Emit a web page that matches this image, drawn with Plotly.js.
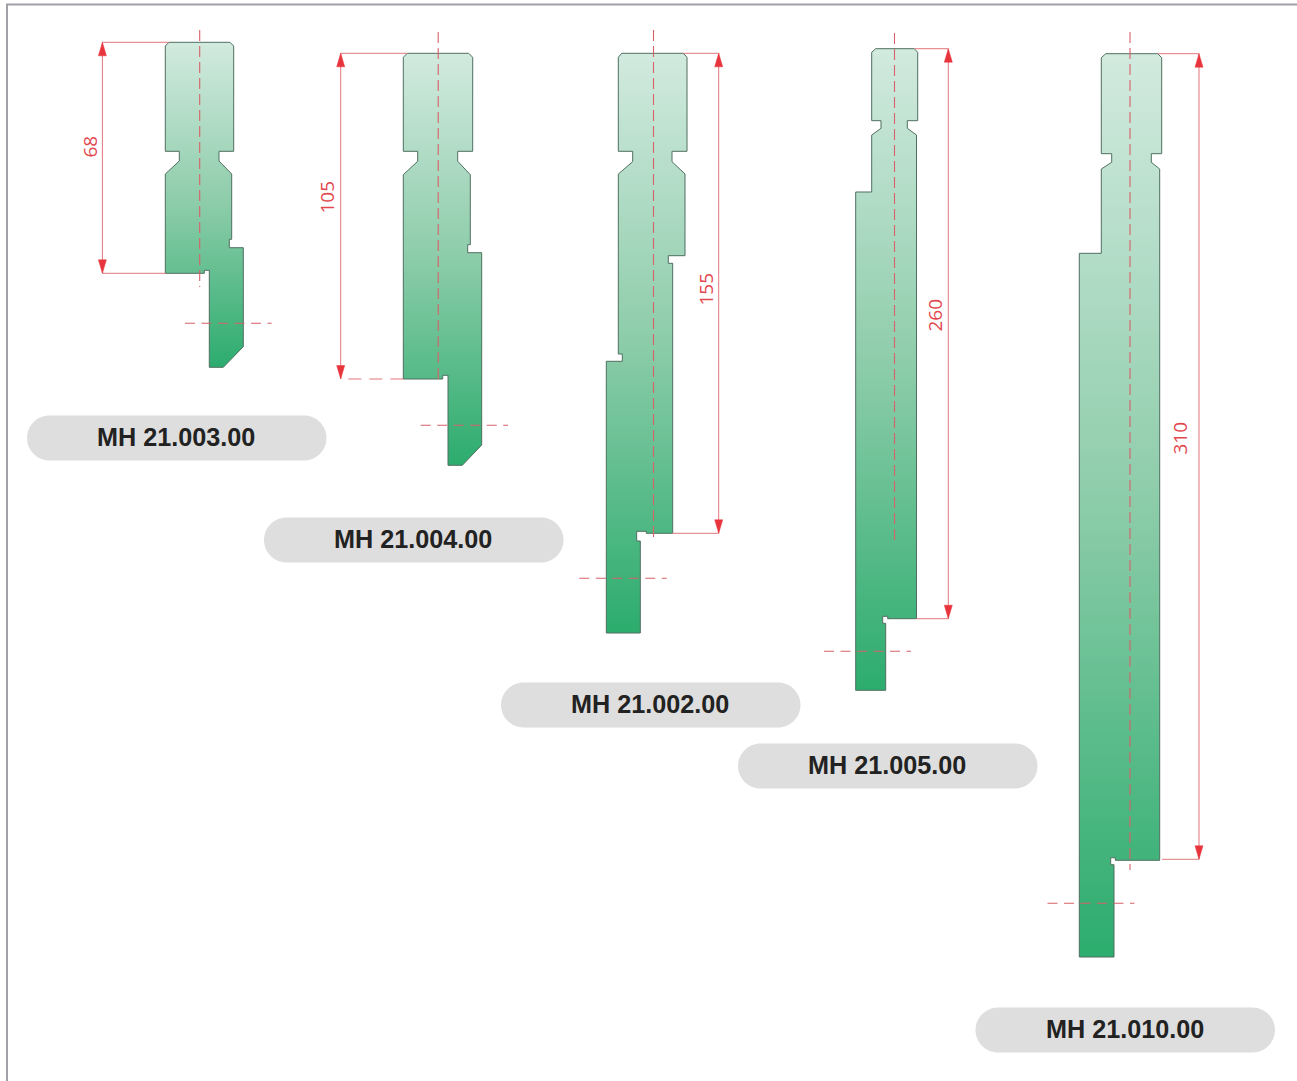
<!DOCTYPE html>
<html><head><meta charset="utf-8">
<script src="https://cdn.plot.ly/plotly-3.0.1.min.js"></script>
<style>html,body{margin:0;padding:0;background:#fff;overflow:hidden}</style>
</head><body><div id="chart" style="width:1297px;height:1081px"></div>
<script>
// Die profiles (outline vertices)
const p003x=[169,230,233.7,233.7,219,219,231.7,231.7,229.3,229.3,243.3,243.3,223.3,209.3,209.3,204.3,204.3,165.3,165.3,179.3,179.3,165.3,165.3,169];
const p003y=[42.3,42.3,46,151.3,151.3,161,174,239.3,239.3,247.7,247.7,346.7,367.3,367.3,270.3,270.3,273.3,273.3,174,161,151.3,151.3,46,42.3];
const p004x=[407.3,468.7,472.7,472.7,457.7,457.7,470.3,470.3,467.7,467.7,481.7,481.7,462.3,448,448,442.7,442.7,403.3,403.3,417.7,417.7,403.3,403.3,407.3];
const p004y=[53.3,53.3,57.3,151.3,151.3,161.3,174.7,244.7,244.7,252.7,252.7,445,465.3,465.3,375.3,375.3,379,379,174.7,161.3,151.3,151.3,57.3,53.3];
const p002x=[621.7,683.3,687,687,672,672,685,685,668.3,668.3,672.7,672.7,646.3,646.3,636.7,636.7,640.3,640.3,606.3,606.3,622.3,622.3,618.3,618.3,632.7,632.7,618.3,618.3,621.7];
const p002y=[53.3,53.3,57.3,151.3,151.3,161.7,174,255.7,255.7,263.3,263.3,533.3,533.3,531.3,531.3,541,541,633,633,361.3,361.3,354,354,174,161.7,151.3,151.3,57.3,53.3];
const p005x=[875.7,914.3,917.7,917.7,907.3,907.3,916.5,916.5,887.7,887.7,882.7,882.7,885.7,885.7,855.7,855.7,871.7,871.7,881,881,871.7,871.7,875.7];
const p005y=[48.7,48.7,52.3,120.7,120.7,128.3,135,618.7,618.7,616.3,616.3,623.3,623.3,690.3,690.3,192,192,135,128.3,120.7,120.7,52.3,48.7];
const p010x=[1105.7,1157.7,1161.7,1161.7,1151.3,1151.3,1159.7,1159.7,1115.3,1115.3,1110.7,1110.7,1114,1114,1079.3,1079.3,1101.3,1101.3,1111.7,1111.7,1101.3,1101.3,1105.7];
const p010y=[53.7,53.7,57.7,153.7,153.7,162.3,169,860.3,860.3,857.7,857.7,864.7,864.7,957,957,253.3,253.3,169,162.3,153.7,153.7,57.7,53.7];
const profileX=[p003x,p004x,p002x,p005x,p010x];
const profileY=[p003y,p004y,p002y,p005y,p010y];

// Labels
const partNames=["MH 21.003.00","MH 21.004.00","MH 21.002.00","MH 21.005.00","MH 21.010.00"];
const pillLeft=[27,264,501,738,975.5];
const pillRight=[326.5,563.5,800.5,1037.5,1275];
const pillTop=[415.5,517.5,682.5,743.5,1007.5];
const pillBottom=[460.5,562.5,727.5,788.5,1052.5];

// Dimensions
const dimValues=["68","105","155","260","310"];
const dimX=[102.4,340.7,718.7,948.3,1199];
const dimTop=[42.3,53.3,53.3,48.7,53.7];
const dimBottom=[273.3,379,533.3,618.7,859.3];
const dimLabelX=[89.5,326.5,705.5,934.5,1179.5];
const dimLabelY=[147,197,289,315,438];
const extTopEnd=[169,407,683.5,914.5,1158];
const extBottomEnd=[165.3,403.3,672.7,916.5,1162];

// Centre lines
const axisX=[199.7,438.2,653.5,894.5,1130];
const axisTop=[30,32,30,33,32];
const axisBottom=[287,384,541.7,545,870];
const crossY=[323.3,425.3,578.3,651.3,903.3];
const crossLeft=[185,420.7,579.3,824,1047.5];
const crossRight=[271.7,508,666.7,911,1134.5];

const RED="#e8343c", THIN="#e2777d", DASH="#d8626a";
const traces=[];
profileX.forEach((xs,i)=>{
  traces.push({x:xs,y:profileY[i],mode:"lines",fill:"toself",
    line:{color:"#4f6f60",width:1},
    fillgradient:{type:"vertical",colorscale:[[0,"#2cac6e"],[0.5,"#8ccca9"],[1,"#d2eadf"]]},
    hoverinfo:"skip"});
});
dimX.forEach((x,i)=>{
  traces.push({x:[x,x],y:[dimTop[i],dimBottom[i]],mode:"lines",line:{color:THIN,width:1},hoverinfo:"skip"});
  traces.push({x:[extTopEnd[i],x],y:[dimTop[i],dimTop[i]],mode:"lines",line:{color:THIN,width:1},hoverinfo:"skip"});
  traces.push({x:[extBottomEnd[i],x],y:[dimBottom[i],dimBottom[i]],mode:"lines",
    line:{color:THIN,width:1,dash:i===1?"13px,8px":"solid"},hoverinfo:"skip"});
  // arrowheads
  [[dimTop[i],1],[dimBottom[i],-1]].forEach(([tip,d])=>{
    traces.push({x:[x,x-4,x+4,x],y:[tip,tip+13.5*d,tip+13.5*d,tip],mode:"lines",fill:"toself",
      fillcolor:RED,line:{color:RED,width:0.5},hoverinfo:"skip"});
  });
  traces.push({x:[axisX[i],axisX[i]],y:[axisTop[i],axisBottom[i]],mode:"lines",
    line:{color:DASH,width:1.1,dash:"11px,5px"},hoverinfo:"skip"});
  traces.push({x:[crossLeft[i],crossRight[i]],y:[crossY[i],crossY[i]],mode:"lines",
    line:{color:DASH,width:1.1,dash:"10px,6.5px"},hoverinfo:"skip"});
});

const shapes=partNames.map((_,i)=>{
  const l=pillLeft[i],r=pillRight[i],t=pillTop[i],b=pillBottom[i],h=(b-t)/2,k=h*0.55,m=(t+b)/2;
  return {type:"path",layer:"below",line:{width:0},fillcolor:"#dedede",
    path:`M ${l+h} ${t} L ${r-h} ${t} C ${r-h+k} ${t} ${r} ${m-k} ${r} ${m} C ${r} ${m+k} ${r-h+k} ${b} ${r-h} ${b} L ${l+h} ${b} C ${l+h-k} ${b} ${l} ${m+k} ${l} ${m} C ${l} ${m-k} ${l+h-k} ${t} ${l+h} ${t} Z`};
});
shapes.push({type:"path",layer:"below",line:{color:"#a0a0a6",width:2},path:"M 7 1081 L 7 4.5 L 1297 4.5"});

const annotations=[];
partNames.forEach((t,i)=>annotations.push({x:(pillLeft[i]+pillRight[i])/2-0.7,y:(pillTop[i]+pillBottom[i])/2-1,showarrow:false,
  font:{family:"Liberation Sans",size:25.2,color:"#222222"},xanchor:"center",yanchor:"middle",
  text:"<b>"+t+"</b>"}));
dimValues.forEach((t,i)=>annotations.push({x:dimLabelX[i],y:dimLabelY[i],text:t,showarrow:false,textangle:-90,
  font:{family:"Open Sans",size:19,color:"#e2474e"},xanchor:"center",yanchor:"middle"}));

Plotly.newPlot("chart",traces,{
  width:1297,height:1081,margin:{l:0,r:0,t:0,b:0},showlegend:false,
  paper_bgcolor:"#ffffff",plot_bgcolor:"#ffffff",hovermode:false,
  xaxis:{range:[0,1297],visible:false,fixedrange:true},
  yaxis:{range:[1081,0],visible:false,fixedrange:true},
  shapes,annotations
},{displayModeBar:false,staticPlot:true});
</script></body></html>
